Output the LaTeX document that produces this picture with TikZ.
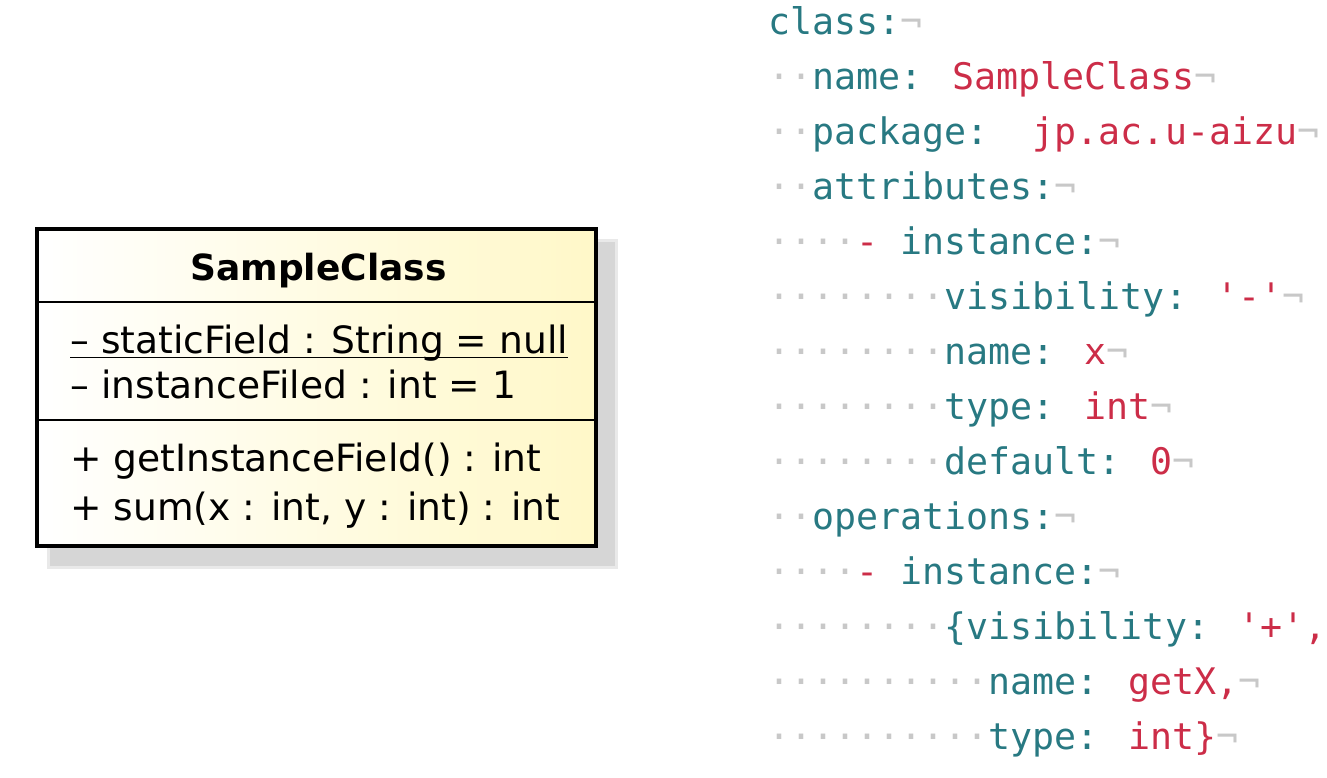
\documentclass[tikz,border=0pt]{standalone}
\usepackage{fontspec}
\setmainfont{DejaVu Sans}
\newfontfamily\codefont{DejaVu Sans Mono}
\definecolor{ckey}{RGB}{40,121,130}
\definecolor{cval}{RGB}{204,45,72}
\definecolor{cws}{RGB}{200,200,200}
\definecolor{boxfill}{RGB}{255,248,200}
\definecolor{shadowgray}{RGB}{214,214,214}
\newcommand\ws{\textcolor{cws}{·}}
\newcommand\eol{\textcolor{cws}{¬}}
\newcommand\vv[1]{\textcolor{cval}{#1}}
\tikzset{
  codeline/.style={anchor=base west, inner sep=0pt, text=ckey,
    font=\codefont\fontsize{18.3}{22}\selectfont},
  umltext/.style={anchor=base west, inner sep=0pt,
    font=\fontsize{18.8}{22}\selectfont},
  classbox/.style={draw=black, line width=2pt, shade, left color=white,
    right color=boxfill, minimum width=279.5pt, minimum height=158.5pt,
    inner sep=0pt},
}
\begin{document}
\begin{tikzpicture}[x=0.5pt,y=-0.5pt]
\useasboundingbox (0,0) rectangle (1327,777);
% UML class
\fill[shadowgray!55] (47,239) rectangle (618,569);
\fill[shadowgray] (50,242) rectangle (615,566);
\node[classbox] (cls) at (316.5,387.5) {};
\draw[line width=1pt] (cls.west |- {(0,302)}) coordinate (d1a) -- (cls.east |- {(0,302)}) coordinate (d1b);
\draw[line width=1pt] (cls.west |- {(0,420)}) coordinate (d2a) -- (cls.east |- {(0,420)}) coordinate (d2b);
\node[anchor=base, inner sep=0pt, font=\bfseries\fontsize{18}{22}\selectfont] (title) at (318.5,280) {SampleClass};
\node[umltext] (a1) at (70,353) {– staticField : String = null};
\draw[line width=0.8pt] ([yshift=-2.2pt]a1.base west) -- ([yshift=-2.2pt]a1.base east);
\node[umltext] (a2) at (70,398) {– instanceFiled : int = 1};
\node[umltext] (o1) at (70,471) {+ getInstanceField() : int};
\node[umltext] (o2) at (70,520) {+ sum(x : int, y : int) : int};
% YAML code
\node[codeline] (c0) at (768,34) {class:\eol};
\node[codeline] (c1) at (768,89) {\ws\ws name: \vv{SampleClass}\eol};
\node[codeline] (c2) at (768,144) {\ws\ws package:~~\vv{jp.ac.u-aizu}\eol};
\node[codeline] (c3) at (768,199) {\ws\ws attributes:\eol};
\node[codeline] (c4) at (768,254) {\ws\ws\ws\ws\vv{-} instance:\eol};
\node[codeline] (c5) at (768,309) {\ws\ws\ws\ws\ws\ws\ws\ws visibility: \vv{'-'}\eol};
\node[codeline] (c6) at (768,364) {\ws\ws\ws\ws\ws\ws\ws\ws name: \vv{x}\eol};
\node[codeline] (c7) at (768,419) {\ws\ws\ws\ws\ws\ws\ws\ws type: \vv{int}\eol};
\node[codeline] (c8) at (768,474) {\ws\ws\ws\ws\ws\ws\ws\ws default: \vv{0}\eol};
\node[codeline] (c9) at (768,529) {\ws\ws operations:\eol};
\node[codeline] (c10) at (768,584) {\ws\ws\ws\ws\vv{-} instance:\eol};
\node[codeline] (c11) at (768,639) {\ws\ws\ws\ws\ws\ws\ws\ws\{visibility: \vv{'+',}\eol};
\node[codeline] (c12) at (768,694) {\ws\ws\ws\ws\ws\ws\ws\ws\ws\ws name: \vv{getX,}\eol};
\node[codeline] (c13) at (768,749) {\ws\ws\ws\ws\ws\ws\ws\ws\ws\ws type: \vv{int\}}\eol};
\end{tikzpicture}
\end{document}
